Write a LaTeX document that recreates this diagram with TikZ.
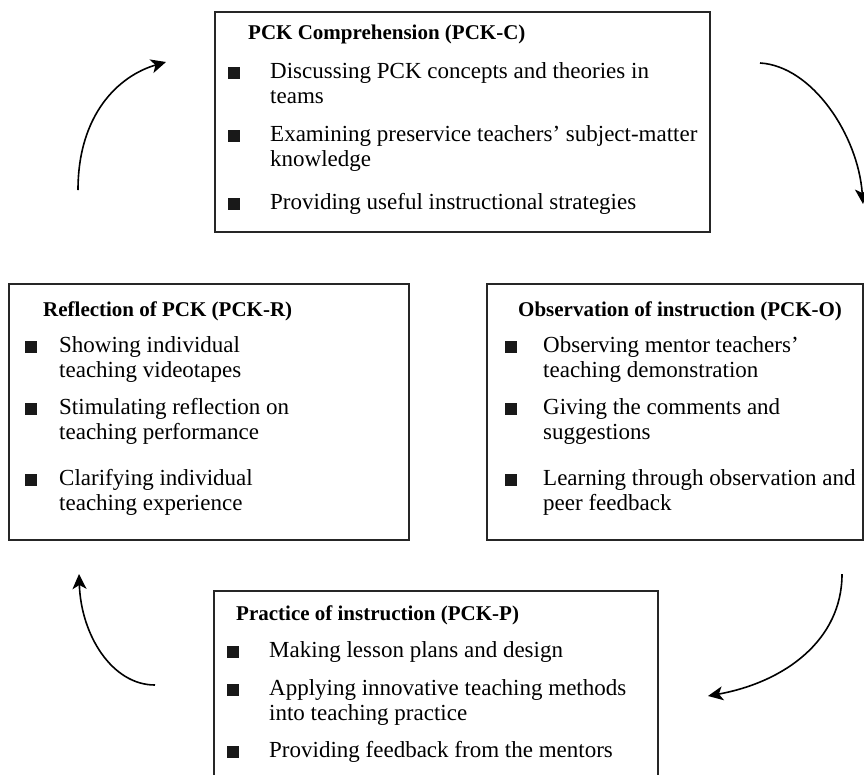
\documentclass[tikz,border=0pt]{standalone}
\usepackage{fontspec}
\setmainfont{Liberation Serif}
\usetikzlibrary{arrows.meta}
\begin{document}
\begin{tikzpicture}[x=1pt,y=-1pt,
  box/.style={draw=black!85, line width=1.1pt, anchor=north west, inner sep=0pt, outer sep=0pt},
  ttl/.style={anchor=base west, inner sep=0pt, font=\fontsize{21}{24}\selectfont\bfseries},
  txt/.style={anchor=base west, inner sep=0pt, font=\fontsize{23}{25}\selectfont},
  bul/.style={fill=black!90, minimum size=12pt, inner sep=0pt, outer sep=0pt},
  arr/.style={line width=1.6pt, -{Stealth[length=15pt,width=14pt,inset=4pt]}}]
\useasboundingbox (0,0) rectangle (864,774);
\clip (0,0) rectangle (864,774);
% PCK-C
\node[box, minimum width=495pt, minimum height=220pt] (C) at (215,12) {};
\node[ttl] (Ct) at (248,39) {PCK Comprehension (PCK-C)};
\node[bul] (Cb1) at (234,73) {};
\node[txt] (C1a) at (270,78) {Discussing PCK concepts and theories in};
\node[txt] (C1b) at (270,103) {teams};
\node[bul] (Cb2) at (234,136) {};
\node[txt] (C2a) at (270,141) {Examining preservice teachers’ subject-matter};
\node[txt] (C2b) at (270,166) {knowledge};
\node[bul] (Cb3) at (234,204) {};
\node[txt] (C3) at (270,209) {Providing useful instructional strategies};
% PCK-R
\node[box, minimum width=400pt, minimum height=256pt] (R) at (9,284) {};
\node[ttl] (Rt) at (43,316) {Reflection of PCK (PCK-R)};
\node[bul] (Rb1) at (31,347) {};
\node[txt] (R1a) at (59,352) {Showing individual};
\node[txt] (R1b) at (59,377) {teaching videotapes};
\node[bul] (Rb2) at (31,409) {};
\node[txt] (R2a) at (59,414) {Stimulating reflection on};
\node[txt] (R2b) at (59,439) {teaching performance};
\node[bul] (Rb3) at (31,480) {};
\node[txt] (R3a) at (59,485) {Clarifying individual};
\node[txt] (R3b) at (59,510) {teaching experience};
% PCK-O
\node[box, minimum width=376pt, minimum height=256pt] (O) at (487,284) {};
\node[ttl] (Ot) at (518,316) {Observation of instruction (PCK-O)};
\node[bul] (Ob1) at (511,347) {};
\node[txt] (O1a) at (543,352) {Observing mentor teachers’};
\node[txt] (O1b) at (543,377) {teaching demonstration};
\node[bul] (Ob2) at (511,409) {};
\node[txt] (O2a) at (543,414) {Giving the comments and};
\node[txt] (O2b) at (543,439) {suggestions};
\node[bul] (Ob3) at (511,480) {};
\node[txt] (O3a) at (543,485) {Learning through observation and};
\node[txt] (O3b) at (543,510) {peer feedback};
% PCK-P
\node[box, minimum width=444pt, minimum height=220pt] (P) at (214,591) {};
\node[ttl] (Pt) at (236,620) {Practice of instruction (PCK-P)};
\node[bul] (Pb1) at (233,652) {};
\node[txt] (P1) at (269,657) {Making lesson plans and design};
\node[bul] (Pb2) at (233,690) {};
\node[txt] (P2a) at (269,695) {Applying innovative teaching methods};
\node[txt] (P2b) at (269,720) {into teaching practice};
\node[bul] (Pb3) at (233,752) {};
\node[txt] (P3) at (269,757) {Providing feedback from the mentors};
% arrows
\coordinate (a1s) at (78,190);  \coordinate (a1e) at (166,62);
\coordinate (a2s) at (760,63);  \coordinate (a2e) at (863,204);
\coordinate (a3s) at (842,574); \coordinate (a3e) at (708,696);
\coordinate (a4s) at (155,685); \coordinate (a4e) at (79,574);
\draw[arr] (a1s) .. controls (78,115) and (118,76) .. (a1e);
\draw[arr] (a2s) .. controls (812,66) and (858,135) .. (a2e);
\draw[arr] (a3s) .. controls (842,640) and (785,682) .. (a3e);
\draw[arr] (a4s) .. controls (112,685) and (81,635) .. (a4e);
\end{tikzpicture}
\end{document}
